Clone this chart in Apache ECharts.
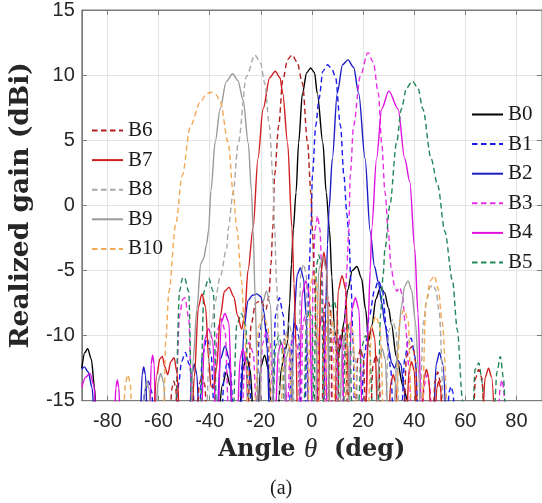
<!DOCTYPE html>
<html><head><meta charset="utf-8">
<script src="https://cdn.jsdelivr.net/npm/echarts@6/dist/echarts.min.js"></script>
<style>html,body{margin:0;padding:0;background:#fff}#c{width:542px;height:503px}</style>
</head><body><div id="c"></div>
<script>
const angleTicks = [-80, -60, -40, -20, 0, 20, 40, 60, 80];
const beamNames = ['B0','B1','B2','B3','B4','B5','B6','B7','B8','B9','B10'];

const B0 = [[-90,-12.5],[-88.8,-11.3],[-87.7,-11],[-86.3,-11.8],[-85,-14],[-84.2,-17],
 [-37,-17],[-35,-13.8],[-33.5,-12.8],[-32,-13.8],[-30.3,-17],
 [-28.6,-17],[-27,-12.6],[-25.6,-11.6],[-24.2,-12.6],[-22.6,-17],
 [-21.4,-17],[-20,-12.4],[-18.5,-11.5],[-17,-12.6],[-15.4,-17],
 [-13.6,-17],[-12,-12.6],[-10.6,-11.2],[-9.6,-10.6],[-8.7,-7.5],[-8,-4.5],[-7.3,-1.9],
 [-6.2,1.0],[-5.2,4.8],[-3.7,8.6],[-2,10.2],[-0.5,10.55],[1,10.2],[2.1,8.6],[4.3,4.8],
 [5.6,1.0],[6.9,-1.9],[7.8,-5.5],[8.8,-9.5],[10,-11.5],[11.2,-10.9],[12.5,-9],[14,-6.5],
 [15.8,-5],[17.6,-4.7],[19.4,-5.6],[21,-8],[22.2,-10.4],[23.5,-9.2],[25,-7.2],[26.8,-6.3],
 [28.4,-6.7],[30,-7.9],[31.1,-9.1],[33,-11.6],[35.7,-13.9],[37.5,-15],[38,-17]];

const B1 = [[-66.5,-17],[-65.2,-14.2],[-64,-13.5],[-62.8,-14.2],[-61.5,-17],
 [-53,-17],[-52,-13.5],[-51,-12],[-49.5,-11.3],[-48,-12.2],[-46.5,-14],[-45.8,-17],
 [-44.2,-17],[-42.8,-11.5],[-41.1,-10.2],[-39.4,-11.5],[-38,-17],
 [-35.5,-17],[-34.2,-12.8],[-33,-12],[-31.8,-12.8],[-30.5,-17],
 [-28.6,-17],[-27.3,-12.3],[-26,-11.5],[-24.7,-12.3],[-23.4,-17],
 [-22,-17],[-20.5,-9.8],[-19,-8.5],[-17.5,-9.8],[-16,-17],
 [-15.6,-17],[-14.2,-8.4],[-12.7,-7.1],[-11.2,-8.4],[-9.8,-17],
 [-9,-17],[-7.8,-10],[-6.5,-9],[-5.2,-10],[-4,-17],
 [-2.8,-17],[-1.8,-9],[-1,-4.5],[-0.4,-1.75],[0.2,2.3],[1.5,6.1],[2.8,8.2],[4.3,10.3],
 [6.1,10.8],[7.7,10.5],[9.2,9.9],[11.2,6.1],[12.5,2.3],[13.7,-0.7],[14.4,-2.1],[15.3,-6],
 [16.1,-10.5],[16.8,-17],
 [19,-17],[20.5,-11.5],[22.5,-8.5],[24.5,-6.5],[26,-5.8],[27.5,-6.4],[29.2,-9.5],[30.8,-12.5],[32,-17],
 [34.8,-17],[36.3,-11.8],[37.8,-10.3],[38.8,-10.2],[40.3,-11.6],[41.8,-17],
 [52.8,-17],[53.7,-14.3],[54.4,-13.9],[55.1,-14.3],[56,-17]];

const B2 = [[-90,-12.6],[-89,-12.4],[-87.5,-12.8],[-86,-14],[-84.8,-17],
 [-67.2,-17],[-66.4,-13],[-65.8,-12.4],[-65.1,-13],[-64.3,-17],
 [-48,-17],[-47,-13],[-46,-12.2],[-45,-13],[-44,-17],
 [-37.3,-17],[-35.8,-11.8],[-34,-10.8],[-32.3,-11.8],[-31,-17],
 [-28,-17],[-26.6,-9.5],[-25,-7.3],[-23.2,-6.9],[-21.5,-6.8],[-20,-7],[-18.7,-8.2],[-17.5,-11],[-16.5,-17],
 [-8.2,-17],[-7,-8.5],[-5.7,-5.3],[-4.5,-4.8],[-3.3,-5.6],[-2.2,-8.5],[-1.2,-17],
 [4.5,-17],[5.4,-8],[6.1,-3],[6.7,-0.3],[8,3.6],[9.9,8.6],[12,10.8],[14.1,11.17],[16.3,10.6],
 [18.3,8.6],[20.8,3.6],[22.8,-2],[24.5,-4.7],[26,-5.9],[27.3,-7.5],[28.6,-9.1],[30,-11],
 [31.2,-12.1],[32.3,-12.5],[33.5,-11.9],[34.8,-12.2],[36,-14],[37,-17],
 [47.5,-17],[48.6,-12.2],[49.9,-11.3],[51.2,-12.2],[52.5,-17]];

const B3 = [[-53.2,-17],[-51.8,-8.5],[-50.5,-7.2],[-49.7,-7.1],[-48.2,-8.6],[-46.8,-17],
 [-38.6,-17],[-37,-9.6],[-35.5,-8.7],[-34,-9.6],[-32.4,-17],
 [-27.6,-17],[-26,-11.3],[-24.5,-10.5],[-23,-11.3],[-21.4,-17],
 [-20.8,-17],[-19.3,-10.6],[-17.8,-9.7],[-16.3,-10.6],[-14.8,-17],
 [-9.8,-17],[-8.4,-10.8],[-7,-10],[-5.6,-10.8],[-4.6,-17],
 [-4.3,-17],[-3.6,-9.3],[-2.8,-8.5],[-2,-9.3],[-1.2,-17],
 [-0.2,-17],[0.5,-5],[1.3,-1.8],[2.2,-0.8],[3.1,-1.8],[3.9,-5],[4.8,-11],[5.5,-17],
 [7.3,-17],[8,-10.8],[8.6,-10],[9.2,-10.8],[9.9,-17],
 [11.8,-17],[12.7,-10],[13.6,-5],[14.4,-2.1],[15,2.3],[16.3,6.1],[18.9,9.9],[21.9,11.73],
 [24,11],[26,8.6],[27.3,4.8],[28.6,1.0],[29.9,-2.1],[31,-4.8],[32.2,-6.1],[33.2,-6.6],
 [34.3,-6.3],[35.3,-6.8],[36.5,-9],[38,-12.5],[39,-17],
 [42.8,-17],[44,-13.8],[45,-13],[46,-13.8],[47.2,-17],
 [72.8,-17],[73.6,-14],[74.3,-13.4],[75,-14],[75.6,-17]];

const B4 = [[-90,-14],[-88.5,-13.2],[-86.8,-12.9],[-85.3,-13.8],[-84.2,-17],
 [-77.3,-17],[-76.7,-14],[-76.1,-13.4],[-75.5,-14],[-74.9,-17],
 [-63.4,-17],[-62.9,-12.2],[-62.3,-11.5],[-61.7,-12.2],[-61.1,-17],
 [-43.4,-17],[-42,-10.3],[-40.4,-9.5],[-38.8,-10.3],[-37.4,-17],
 [-36.8,-17],[-35.5,-9],[-34,-8.3],[-32.5,-9],[-31,-17],
 [-29.3,-17],[-28.1,-11.8],[-27,-11],[-25.9,-11.8],[-24.7,-17],
 [-14.4,-17],[-13.2,-11.3],[-12,-10.5],[-10.8,-11.3],[-9.6,-17],
 [-5.2,-17],[-3.8,-6.8],[-2.4,-5.8],[-1,-6.8],[0.2,-17],
 [1.8,-17],[3,-9.3],[4,-8.5],[5,-9.3],[6.2,-17],
 [9.3,-17],[10.2,-10.8],[11,-10],[11.8,-10.8],[12.7,-17],
 [14.2,-17],[15.6,-8],[17,-7.1],[18.4,-8],[19.8,-17],
 [21,-17],[22,-9],[22.8,-5],[23.4,-1.75],[25.3,3.6],[27.3,7.4],[30.1,8.77],[33.7,7.4],
 [36.3,3.6],[38.3,1.8],[40.2,-3.3],[41.5,-8.3],[42.7,-14.9],[43,-17]];

const B5 = [[-53.2,-17],[-51.8,-6.6],[-50.6,-5.6],[-49.9,-5.5],[-48.2,-6.6],[-46.8,-17],
 [-43.8,-17],[-42.2,-6.6],[-40.4,-5.6],[-38.6,-6.6],[-37.1,-17],
 [-31,-17],[-29.4,-9.2],[-27.6,-8.3],[-25.9,-9.2],[-24.5,-17],
 [-15.5,-17],[-14.2,-10.8],[-13,-10],[-11.8,-10.8],[-10.6,-17],
 [-3.3,-17],[-2.1,-8.8],[-1,-8],[0.1,-8.8],[0.8,-17],
 [0.9,-17],[1.8,-4.6],[2.7,-3.8],[3.6,-4.6],[4.8,-17],
 [6.3,-17],[7.4,-8.1],[8.6,-7.3],[9.8,-8.1],[11,-17],
 [12.2,-17],[13.2,-9.8],[14,-9],[14.8,-9.8],[15.8,-17],
 [17.8,-17],[19.5,-10.8],[21,-10],[22.5,-10.8],[24,-17],
 [25.8,-17],[26.8,-8.5],[27.8,-5.5],[28.6,-3.3],[30.5,0],[33.1,4.8],[35,7.4],[37,9],
 [39.3,9.53],[41.5,9],[43.4,7.4],[46.6,3.6],[49.2,1.55],[52,-2],[55,-5.8],[56.9,-9.6],
 [58.9,-14.9],[59.3,-17],
 [62.8,-17],[63.8,-12.6],[65.3,-12.1],[66.6,-13.6],[67.6,-17],
 [71,-17],[72.4,-12.8],[73.7,-11.6],[74.9,-13.2],[75.8,-17]];

const B6 = [[-55.6,-17],[-54.7,-14],[-54,-13.5],[-53.3,-14],[-52.4,-17],
 [-45.2,-17],[-44,-13.7],[-43,-13],[-42,-13.7],[-40.8,-17],
 [-25.2,-17],[-23.8,-9.2],[-22,-7.5],[-20,-7.3],[-18,-8],[-16.8,-7],[-16,-4.5],
 [-15.3,-1.75],[-14.6,2.3],[-13,6.1],[-11.4,9.6],[-9.5,11.2],[-7.7,11.55],[-5.8,11],
 [-3.7,9.4],[-1.7,4.8],[-0.4,1.0],[0.2,-1.9],[1,-5.5],[1.7,-10],[2.2,-17],
 [3.8,-17],[4.9,-7.8],[6,-7],[7.1,-7.8],[8.2,-17],
 [9.8,-17],[10.9,-10.3],[12,-9.5],[13.1,-10.3],[14.2,-17],
 [16.8,-17],[17.9,-11.8],[19,-11],[20.1,-11.8],[21.2,-17],
 [22.8,-17],[23.9,-12.3],[25,-11.5],[26.1,-12.3],[27.2,-17],
 [35.8,-17],[37,-11.6],[38.2,-11],[39.5,-10.8],[40.6,-12],[41.4,-17],
 [47.2,-17],[48.2,-13.5],[49.2,-12.8],[50.2,-13.5],[51.2,-17],
 [63,-17],[64,-13.3],[65.2,-12.6],[66.4,-13.2],[67.5,-17]];

const B7 = [[-62,-17],[-60.6,-13],[-59.5,-11.8],[-58.5,-11.6],[-57.5,-12.4],[-56.4,-13],
 [-55.2,-12],[-53.9,-11.7],[-52.8,-12.8],[-51.6,-17],
 [-47.2,-17],[-46,-13.2],[-44.4,-7.8],[-43,-6.8],[-41.6,-7.8],[-40.3,-12],[-39.5,-13.9],
 [-38.5,-14],[-37.3,-12.5],[-35.8,-8.5],[-34.2,-6.6],[-32.4,-6.3],[-30.6,-7],[-29,-8.5],
 [-27.5,-9.5],[-26.3,-8.5],[-25,-5],[-23,-1.75],[-21.1,3.6],[-19.1,7.4],[-16.5,9.8],
 [-14.3,10.3],[-12.5,9.8],[-11.4,8.6],[-9.5,4.8],[-7.8,-1.75],[-7,-6],[-6.2,-11],[-5.6,-17],
 [2.4,-17],[3.5,-5.2],[4.7,-3.6],[5.9,-5.2],[7,-17],
 [8.9,-17],[10.3,-6.5],[11.8,-5.4],[13.3,-6.5],[14.7,-17],
 [20.8,-17],[22.1,-10.1],[23.4,-9.4],[24.6,-10.2],[25.8,-17],
 [29.8,-17],[30.9,-13.6],[31.8,-13],[32.7,-13.6],[33.7,-17],
 [36.9,-17],[38,-12.7],[39,-12],[40,-12.7],[41.1,-17],
 [42.9,-17],[43.9,-13.2],[44.8,-12.6],[45.7,-13.2],[46.7,-17],
 [48,-17],[48.9,-14],[49.6,-13.5],[50.3,-14],[51.2,-17],
 [66.5,-17],[67.8,-13.2],[69.1,-12.5],[70.3,-13.2],[71.5,-17]];

const B8 = [[-41.2,-17],[-40.2,-11.5],[-39.2,-9.2],[-38,-7.5],[-35.9,-5.5],[-33.3,-3.3],
 [-32.7,-1.75],[-30.8,1.0],[-28.8,4.8],[-25.6,9.9],[-22.3,11.55],[-20,10.9],[-18.5,9.4],
 [-16.6,6.1],[-15.3,2.3],[-14.6,-1.75],[-13.8,-6],[-13,-11],[-12.5,-17],
 [-11.3,-17],[-10.1,-9.8],[-9,-9],[-7.9,-9.8],[-6.7,-17],
 [-5.4,-17],[-4.4,-5.3],[-3.3,-4.5],[-2.2,-5.3],[-1.2,-17],
 [5.8,-17],[6.9,-9.8],[8,-9],[9.1,-9.8],[10.2,-17],
 [13.8,-17],[14.9,-11.8],[16,-11],[17.1,-11.8],[18.2,-17],
 [28.6,-17],[30.1,-9.6],[31.5,-8.8],[32.9,-9.6],[34.2,-17],
 [42,-17],[43.6,-9],[45,-7.2],[46.2,-6.3],[47.3,-6.1],[48.5,-6.5],[49.8,-8.2],[51.5,-17]];

const B9 = [[-66.2,-17],[-65.3,-14.1],[-64.5,-13.5],[-63.7,-14.1],[-62.8,-17],
 [-61.3,-17],[-60.2,-13.6],[-59.1,-12.9],[-58,-13.6],[-57,-17],
 [-47.5,-17],[-46.5,-12],[-45,-8],[-43.5,-4.5],[-42.4,-4.1],[-41.2,-3],[-40.4,-1.9],
 [-39.5,1.1],[-37.8,4.9],[-35.9,7.4],[-33.5,9.5],[-31,10.1],[-29,9.6],[-26.9,8.1],
 [-24.9,4.8],[-23.6,1.0],[-23,-1.9],[-22.2,-7],[-21.5,-12],[-21,-17],
 [-20.6,-17],[-19.4,-7.6],[-17.8,-6.6],[-16.2,-7.6],[-14.8,-17],
 [-11,-17],[-10,-11.7],[-9,-11],[-8,-11.7],[-7,-17],
 [1.2,-17],[2.7,-4.9],[4.2,-4],[5.7,-4.9],[7.2,-17],
 [10.8,-17],[11.9,-10.8],[13,-10],[14.1,-10.8],[15.2,-17],
 [25,-17],[26.3,-11.8],[27.5,-11],[28.7,-11.8],[29.9,-17],
 [31.8,-17],[33.5,-11],[35,-7.8],[36.3,-6.2],[37.6,-5.8],[39,-6.5],[40.5,-9],[41.8,-13],[42.5,-17]];

const B10 = [[-73.8,-17],[-72.9,-13.6],[-72,-13],[-71.1,-13.6],[-70.2,-17],
 [-58,-17],[-57.8,-14.7],[-57.2,-10.4],[-55.9,-6.6],[-53.3,-1.5],[-50.7,2.3],[-47.5,6.1],
 [-43.5,8],[-41,8.6],[-39.1,8.69],[-37.5,8.5],[-35.9,8.0],[-32.7,4.8],[-30.8,1.0],
 [-29.4,-1.75],[-27.5,-5.8],[-26.5,-9],[-25.5,-12],[-25,-17],
 [-22.5,-17],[-20.8,-9.3],[-19,-8.5],[-17.2,-9.3],[-15.6,-17],
 [-12.3,-17],[-11.1,-10.8],[-10,-10],[-8.9,-10.8],[-7.8,-17],
 [-1.6,-17],[-0.5,-6],[0.7,-5.3],[1.9,-6],[3,-17],
 [4.8,-17],[5.9,-8.8],[7,-8],[8.1,-8.8],[9.2,-17],
 [12.8,-17],[13.9,-9.8],[15,-9],[16.1,-9.8],[17.2,-17],
 [21.8,-17],[23.4,-9.3],[25,-8.5],[26.6,-9.3],[28.2,-17],
 [32.8,-17],[34.4,-8.8],[36,-8],[37.6,-8.8],[39.2,-17],
 [43,-17],[44.6,-7.5],[46.3,-5.8],[47.9,-5.4],[49.4,-6.4],[51,-9],[53,-17]];

const beamData = [B0, B1, B2, B3, B4, B5, B6, B7, B8, B9, B10];
const beamColors = ['#000000','#1a1aee','#1c1cc4','#e62ee6','#e010e0','#21875a',
                    '#b01e1e','#d01f1f','#a8a8a8','#9a9a9a','#f2a954'];
const beamDashed = [false,true,false,true,false,true,true,false,true,false,true];

const chart = echarts.init(document.getElementById('c'), null, {renderer: 'canvas'});
const serif = 'Liberation Serif';
const sans = 'Liberation Sans';
const frameColor = '#7a7a7a';

const series = beamNames.map((n, i) => ({
  name: n, type: 'line', data: beamData[i], symbol: 'none', showSymbol: false,
  smooth: 0.3, smoothMonotone: 'x', clip: true,
  lineStyle: {color: beamColors[i], width: 1.4, type: beamDashed[i] ? [5.5, 3.5] : 'solid'},
  itemStyle: {color: beamColors[i]},
  z: 2
}));

const legendBase = {
  orient: 'vertical', itemWidth: 31, itemHeight: 12, itemGap: 8.6,
  itemStyle: {opacity: 0},
  textStyle: {fontFamily: serif, fontSize: 21, color: '#1a1a1a'},
  backgroundColor: 'transparent'
};

chart.setOption({
  animation: false,
  backgroundColor: '#ffffff',
  grid: {left: 80.5, top: 6.5, right: -4.6, bottom: 102.3, show: true,
         borderColor: frameColor, borderWidth: 1, backgroundColor: 'transparent'},
  legend: [
    Object.assign({}, legendBase, {data: ['B6','B7','B8','B9','B10'], left: 86, top: 115}),
    Object.assign({}, legendBase, {data: ['B0','B1','B2','B3','B4','B5'], left: 466, top: 99})
  ],
  xAxis: [{
    type: 'value', min: -90, max: 90, position: 'bottom',
    axisLine: {show: true, onZero: false, lineStyle: {color: frameColor}},
    axisTick: {show: true, inside: true, length: 5, customValues: angleTicks, lineStyle: {color: frameColor}},
    axisLabel: {customValues: angleTicks, fontFamily: sans, fontSize: 20, color: '#262626', margin: 11},
    splitLine: {show: true, lineStyle: {color: '#e4e4e4', width: 1}},
    name: '{a|Angle }{t|θ}{a|  (deg)}', nameLocation: 'middle', nameGap: 32,
    nameTextStyle: {rich: {
      a: {fontFamily: 'DejaVu Serif', fontWeight: 'bold', fontSize: 24, color: '#262626'},
      t: {fontFamily: serif, fontStyle: 'italic', fontSize: 27, color: '#262626'}}}
  }, {
    type: 'value', min: -90, max: 90, position: 'top',
    axisLine: {show: true, onZero: false, lineStyle: {color: frameColor}},
    axisTick: {show: true, inside: true, length: 5, customValues: angleTicks, lineStyle: {color: frameColor}},
    axisLabel: {show: false}, splitLine: {show: false}
  }],
  yAxis: [{
    type: 'value', min: -15, max: 15, interval: 5,
    axisLine: {show: true, onZero: false, lineStyle: {color: frameColor}},
    axisTick: {show: true, inside: true, length: 5, lineStyle: {color: frameColor}},
    axisLabel: {fontFamily: sans, fontSize: 20, color: '#262626', margin: 7},
    splitLine: {show: true, lineStyle: {color: '#e4e4e4', width: 1}},
    name: 'Realized gain (dBi)', nameLocation: 'middle', nameGap: 40, nameRotate: 90,
    nameTextStyle: {fontFamily: 'DejaVu Serif', fontWeight: 'bold', fontSize: 26.5, color: '#262626'}
  }, {
    type: 'value', min: -15, max: 15, interval: 5, position: 'right',
    axisLine: {show: true, onZero: false, lineStyle: {color: frameColor}},
    axisTick: {show: true, inside: true, length: 5, lineStyle: {color: frameColor}},
    axisLabel: {show: false}, splitLine: {show: false}
  }],
  graphic: [{
    type: 'text', left: 270, top: 479,
    style: {text: '(a)', fontFamily: serif, fontSize: 20, fill: '#1a1a1a'}
  }],
  series: series
});
</script></body></html>
